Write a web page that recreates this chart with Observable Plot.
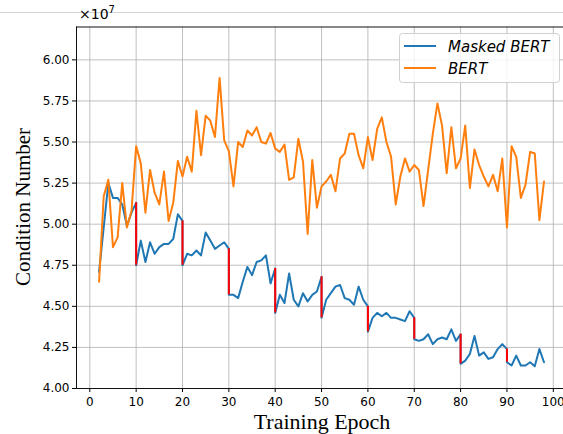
<!DOCTYPE html>
<html><head><meta charset="utf-8">
<script src="https://cdn.jsdelivr.net/npm/d3@7"></script>
<script src="https://cdn.jsdelivr.net/npm/@observablehq/plot@0.6"></script>
<style>
html,body{margin:0;padding:0;background:#fff;}
#chart{position:relative;width:563px;height:434px;overflow:hidden;}
#chart svg{display:block;}
</style></head><body><div id="chart"></div>
<script>
// Training epochs 2..98
const epochs = d3.range(2, 99);
// Condition number (×10^7); at drop epochs this is the value before the drop
const maskedBert = [
  4.71, 4.98, 5.25, 5.16, 5.16, 5.12, 4.99, 5.07,
  5.13, 4.90, 4.77, 4.89, 4.82, 4.86, 4.88, 4.88, 4.91, 5.06,
  5.02, 4.82, 4.81, 4.84, 4.81, 4.95, 4.90, 4.85, 4.87, 4.89,
  4.85, 4.57, 4.55, 4.65, 4.74, 4.69, 4.77, 4.78, 4.81, 4.64,
  4.73, 4.57, 4.52, 4.70, 4.54, 4.50, 4.58, 4.53, 4.57, 4.59,
  4.68, 4.54, 4.58, 4.62, 4.63, 4.55, 4.54, 4.51, 4.62, 4.54,
  4.50, 4.43, 4.46, 4.44, 4.46, 4.43, 4.43, 4.42, 4.41, 4.47,
  4.43, 4.29, 4.30, 4.33, 4.27, 4.30, 4.31, 4.30, 4.36, 4.29,
  4.33, 4.17, 4.21, 4.32, 4.20, 4.22, 4.18, 4.19, 4.24, 4.27,
  4.24, 4.14, 4.20, 4.14, 4.14, 4.16, 4.135, 4.24, 4.16
];
const bert = [
  4.65, 5.17, 5.27, 4.86, 4.92, 5.25, 4.98, 5.08,
  5.475, 5.37, 5.07, 5.33, 5.19, 5.12, 5.32, 5.02, 5.13, 5.385,
  5.29, 5.41, 5.32, 5.69, 5.42, 5.66, 5.63, 5.53, 5.89, 5.51,
  5.445, 5.23, 5.50, 5.47, 5.57, 5.54, 5.59, 5.50, 5.49, 5.555,
  5.46, 5.44, 5.485, 5.27, 5.285, 5.52, 5.38, 4.94, 5.39, 5.10,
  5.23, 5.26, 5.30, 5.20, 5.40, 5.43, 5.55, 5.55, 5.42, 5.34,
  5.53, 5.39, 5.58, 5.65, 5.50, 5.41, 5.12, 5.29, 5.40, 5.32,
  5.36, 5.33, 5.11, 5.33, 5.55, 5.735, 5.60, 5.31, 5.59, 5.34,
  5.40, 5.60, 5.22, 5.455, 5.36, 5.29, 5.23, 5.30, 5.20, 5.40,
  4.98, 5.475, 5.41, 5.16, 5.24, 5.44, 5.43, 5.025, 5.26
];
// Epochs where Masked BERT drops, and the value right after the drop
const dropEpochs = [10, 20, 30, 40, 50, 60, 70, 80, 90];
const dropAfter  = [4.75, 4.75, 4.57, 4.46, 4.43, 4.345, 4.30, 4.15, 4.16];

const xTicks = [0, 10, 20, 30, 40, 50, 60, 70, 80, 90, 100];
const yTicks = [4.00, 4.25, 4.50, 4.75, 5.00, 5.25, 5.50, 5.75, 6.00];
const seriesNames = ["Masked BERT", "BERT"];
const seriesColors = ["#1f77b4", "#ff7f0e"];
const dropColor = "#ff0000";
const xLabel = "Training Epoch";
const yLabel = "Condition Number";

const blueData = [];
epochs.forEach((e, i) => {
  blueData.push({epoch: e, value: maskedBert[i]});
  const k = dropEpochs.indexOf(e);
  if (k >= 0) blueData.push({epoch: e, value: dropAfter[k]});
});
const orangeData = epochs.map((e, i) => ({epoch: e, value: bert[i]}));
const drops = dropEpochs.map((e, k) => ({epoch: e, before: maskedBert[epochs.indexOf(e)], after: dropAfter[k]}));

const xDomain = [-2.87, 102.2];
const yDomain = [4, 6.2];

const chart = Plot.plot({
  width: 563, height: 434,
  marginLeft: 76, marginRight: 0, marginTop: 26.5, marginBottom: 46,
  style: {fontFamily: "DejaVu Sans", fontSize: "12px", color: "#000", background: "#fff", overflow: "visible"},
  x: {domain: xDomain, ticks: xTicks, tickFormat: d => String(d), label: null, tickSize: 4, tickPadding: 5},
  y: {domain: yDomain, ticks: yTicks, tickFormat: d3.format(".2f"), label: null, tickSize: 4, tickPadding: 3},
  marks: [
    Plot.gridX(xTicks, {stroke: "#b0b0b0", strokeOpacity: 0.8, strokeWidth: 1}),
    Plot.gridY(yTicks, {stroke: "#b0b0b0", strokeOpacity: 0.8, strokeWidth: 1}),
    Plot.line(blueData, {x: "epoch", y: "value", stroke: seriesColors[0], strokeWidth: 2}),
    Plot.line(orangeData, {x: "epoch", y: "value", stroke: seriesColors[1], strokeWidth: 2}),
    Plot.ruleX(drops, {x: "epoch", y1: "before", y2: "after", stroke: dropColor, strokeWidth: 2}),
    Plot.ruleY([yDomain[0], yDomain[1]], {stroke: "#111", strokeWidth: 1}),
    Plot.ruleX([xDomain[0]], {stroke: "#111", strokeWidth: 1})
  ]
});
document.getElementById("chart").appendChild(chart);

const svg = d3.select(chart);
// stray light line at the very top of the reference picture
svg.insert("line", ":first-child").attr("x1", 0).attr("x2", 563).attr("y1", 12.5).attr("y2", 12.5)
  .attr("stroke", "#d6d6d6").attr("stroke-width", 1);

// offset label ×10^7
const off = svg.append("text").attr("x", 79).attr("y", 19).attr("text-anchor", "start")
  .attr("font-family", "DejaVu Sans").attr("font-size", 14).attr("fill", "#000");
off.append("tspan").text("×10");
off.append("tspan").attr("dy", -6).attr("font-size", 10).text("7");

// axis titles
svg.append("text").attr("x", 322).attr("y", 429).attr("text-anchor", "middle")
  .attr("font-family", "Liberation Serif").attr("font-size", 22).attr("fill", "#000").text(xLabel);
svg.append("text").attr("transform", "translate(30,207) rotate(-90)").attr("text-anchor", "middle")
  .attr("font-family", "Liberation Serif").attr("font-size", 21).attr("fill", "#000").text(yLabel);

// legend
const lg = svg.append("g").attr("text-anchor", "start");
lg.append("rect").attr("x", 399.5).attr("y", 33.5).attr("width", 160).attr("height", 49).attr("rx", 3)
  .attr("fill", "#fff").attr("fill-opacity", 0.8).attr("stroke", "#d0d0d0");
seriesNames.forEach((name, i) => {
  const cy = 46 + i * 22;
  lg.append("line").attr("x1", 404).attr("x2", 436).attr("y1", cy).attr("y2", cy)
    .attr("stroke", seriesColors[i]).attr("stroke-width", 2);
  lg.append("text").attr("x", 448).attr("y", cy + 5.5).attr("text-anchor", "start").attr("font-family", "DejaVu Sans")
    .attr("font-style", "oblique").attr("font-size", 15).attr("fill", "#000").text(name);
});
</script></body></html>
